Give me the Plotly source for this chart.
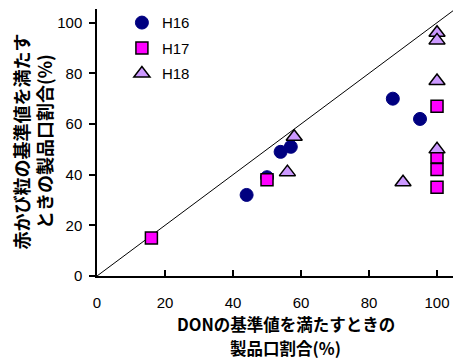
import plotly.graph_objects as go

h16_x = [44, 50, 54, 57, 87, 95]
h16_y = [32, 39, 49, 51, 70, 62]
h17_x = [16, 50, 100, 100, 100, 100]
h17_y = [15, 38, 67, 47, 42, 35]
h18_x = [58, 56, 90, 100, 100, 100, 100]
h18_y = [55, 41, 37, 96, 93, 77, 50]
diag = [0, 105.4]

fig = go.Figure()
fig.add_trace(go.Scatter(x=diag, y=diag, mode="lines", line=dict(color="black", width=1),
                         showlegend=False, hoverinfo="skip", cliponaxis=False))
fig.add_trace(go.Scatter(x=h16_x, y=h16_y, mode="markers", name="H16", legendgroup="a",
                         cliponaxis=False,
                         marker=dict(symbol="circle", size=13, color="#000080",
                                     line=dict(color="#000080", width=1))))
fig.add_trace(go.Scatter(x=h17_x, y=h17_y, mode="markers", name="H17", legendgroup="b",
                         cliponaxis=False,
                         marker=dict(symbol="square", size=12, color="#FF00FF",
                                     line=dict(color="black", width=1.5))))
fig.add_trace(go.Scatter(x=h18_x, y=h18_y, mode="markers", name="H18", legendgroup="c",
                         cliponaxis=False,
                         marker=dict(symbol="triangle-up", size=14, color="#CC99FF",
                                     line=dict(color="black", width=1.5))))

jp = "Noto Sans CJK JP"
ann = dict(xref="paper", yref="paper", showarrow=False, xanchor="center", yanchor="middle",
           borderpad=0, font=dict(family=jp, size=16.5))
fig.update_layout(
    width=457, height=360,
    margin=dict(l=97, r=4, t=9, b=84, autoexpand=False),
    plot_bgcolor="white", paper_bgcolor="white",
    font=dict(family="Liberation Sans, Arial", size=15, color="black"),
    showlegend=True,
    legend=dict(x=0.07, y=1.01, xanchor="left", yanchor="top", bgcolor="rgba(0,0,0,0)",
                font=dict(size=15), tracegroupgap=3, itemwidth=30),
    xaxis=dict(range=[0, 104.7], tickvals=[0, 20, 40, 60, 80, 100], showgrid=False,
               zeroline=False, showline=True, linecolor="black", linewidth=1.5,
               ticks="inside", ticklen=6, tickcolor="black", tickwidth=1.5,
               ticklabelstandoff=12, automargin=False),
    yaxis=dict(range=[0, 105.4], tickvals=[0, 20, 40, 60, 80, 100], showgrid=False,
               zeroline=False, showline=True, linecolor="black", linewidth=1.5,
               ticks="outside", ticklen=6, tickcolor="black", tickwidth=1.5,
               ticklabelstandoff=4, automargin=False),
    annotations=[
        dict(ann, text="<b>DONの基準値を満たすときの</b>", x=0.53, y=(276 - 324) / 267),
        dict(ann, text="<b>製品口割合(%)</b>", x=0.53, y=(276 - 348) / 267),
        dict(ann, text="<b>赤かび粒の基準値を満たす<br>ときの製品口割合(%)</b>",
             x=-0.181, y=0.502, textangle=-90, font=dict(family=jp, size=18)),
    ],
)
fig.write_html("out.html", config={"displayModeBar": False},
               post_script="document.body.style.margin='0';")
